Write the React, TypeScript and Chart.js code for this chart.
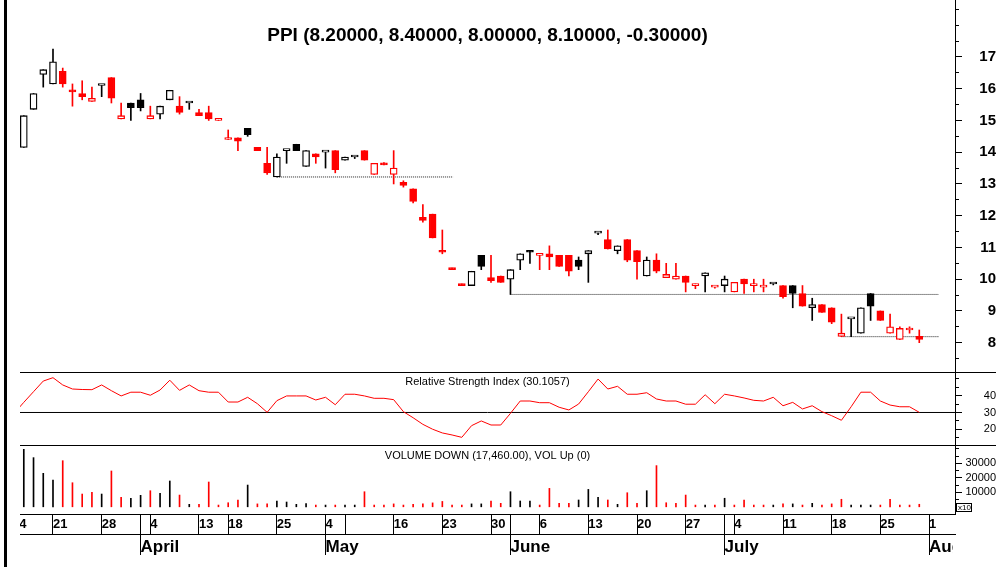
import React, { useEffect, useRef } from 'react';
import { Chart, registerables } from 'chart.js';

Chart.register(...registerables);

const FONT = '"Liberation Sans", Arial, Helvetica, sans-serif';
const RED = '#ff0000';
const BLACK = '#000000';

const titleText = 'PPI (8.20000, 8.40000, 8.00000, 8.10000, -0.30000)';
const rsiCaption = 'Relative Strength Index (30.1057)';
const volCaption = 'VOLUME DOWN (17,460.00), VOL Up (0)';

// trading-day index of the first candle (index 0 = Monday 21 March)
const firstDay = -3;

const open = [
  14.15, 15.35, 16.45, 16.15, 16.55, 15.95, 15.85, 15.6, 16.1, 16.35,
  15.05, 15.55, 15.65, 15.05, 15.2, 15.65, 15.45, 15.55, 15.25, 15.25,
  15.0, 14.4, 14.45, 14.75, 14.15, 13.65, 13.22, 14.05, 14.25, 13.55,
  13.95, 14.0, 14.05, 13.75, 13.85, 14.05, 13.3, 13.65, 13.3, 13.05,
  12.85, 11.95, 12.05, 10.9, 10.35, 9.85, 9.8, 10.75, 10.05, 10.1,
  10.0, 10.6, 10.9, 10.75, 10.8, 10.75, 10.75, 10.6, 10.8, 11.45,
  11.25, 10.9, 11.25, 10.9, 10.1, 10.6, 10.05, 10.0, 10.1, 9.8,
  10.1, 9.75, 9.8, 9.6, 10.0, 9.8, 9.75, 9.85, 9.8, 9.8,
  9.55, 9.1, 9.2, 9.1, 8.2, 8.75, 8.3, 9.55, 9.0, 8.3,
  8.1, 8.4, 8.2,
];
const high = [
  15.15, 15.85, 16.6, 17.25, 16.65, 16.15, 16.25, 16.05, 16.1, 16.35,
  15.55, 15.55, 15.85, 15.45, 15.45, 15.95, 15.75, 15.55, 15.35, 15.45,
  15.05, 14.7, 14.45, 14.75, 14.15, 14.15, 13.95, 14.05, 14.25, 14.05,
  13.95, 14.0, 14.05, 13.85, 13.85, 14.05, 13.65, 13.67, 14.05, 13.1,
  12.85, 12.35, 12.05, 11.55, 10.35, 9.85, 10.25, 10.75, 10.75, 10.1,
  10.3, 10.8, 10.9, 10.75, 11.05, 10.75, 10.75, 10.7, 10.9, 11.47,
  11.55, 11.05, 11.25, 10.9, 10.7, 10.8, 10.5, 10.5, 10.1, 9.85,
  10.2, 9.75, 10.1, 9.9, 10.0, 10.0, 10.0, 9.87, 9.8, 9.8,
  9.8, 9.4, 9.2, 9.1, 8.9, 8.75, 9.1, 9.55, 9.0, 8.9,
  8.5, 8.5, 8.4,
];
const low = [
  14.15, 15.35, 16.05, 16.15, 16.05, 15.45, 15.65, 15.6, 15.75, 15.55,
  15.05, 15.0, 15.3, 15.05, 15.05, 15.65, 15.2, 15.35, 15.15, 15.0,
  15.0, 14.4, 14.05, 14.5, 14.05, 13.3, 13.22, 13.65, 14.05, 13.55,
  13.65, 13.5, 13.35, 13.75, 13.8, 13.75, 13.3, 13.6, 13.0, 12.9,
  12.4, 11.8, 11.3, 10.8, 10.3, 9.8, 9.8, 10.3, 9.9, 9.9,
  9.52, 10.3, 10.5, 10.3, 10.3, 10.4, 10.1, 10.3, 9.9, 11.4,
  10.95, 10.8, 10.55, 10.0, 10.1, 10.2, 10.05, 10.0, 9.6, 9.7,
  9.6, 9.72, 9.6, 9.6, 9.55, 9.6, 9.6, 9.82, 9.4, 9.1,
  9.15, 8.7, 8.95, 8.6, 8.19, 8.19, 8.3, 8.7, 8.7, 8.3,
  8.1, 8.3, 8.0,
];
const close = [
  15.15, 15.85, 16.6, 16.85, 16.15, 15.9, 15.75, 15.7, 16.1, 15.7,
  15.15, 15.4, 15.4, 15.15, 15.45, 15.95, 15.25, 15.55, 15.15, 15.05,
  15.0, 14.4, 14.35, 14.55, 14.05, 13.35, 13.85, 14.05, 14.05, 14.05,
  13.85, 14.0, 13.45, 13.85, 13.85, 13.75, 13.65, 13.6, 13.5, 12.95,
  12.45, 11.85, 11.3, 10.85, 10.3, 9.8, 10.25, 10.4, 9.95, 9.9,
  10.3, 10.8, 10.85, 10.75, 10.7, 10.4, 10.25, 10.4, 10.9, 11.45,
  10.95, 11.05, 10.6, 10.55, 10.6, 10.25, 10.15, 10.1, 9.9, 9.85,
  10.2, 9.75, 10.0, 9.9, 9.85, 9.8, 9.75, 9.85, 9.45, 9.55,
  9.15, 9.2, 8.95, 8.65, 8.3, 8.75, 9.1, 9.15, 8.7, 8.5,
  8.45, 8.4, 8.1,
];
// volume in axis units (x10)
const volume = [
  39650, 33900, 23100, 18500, 31800, 16600, 8800, 10000, 8800, 24700,
  6500, 5900, 7900, 11100, 9300, 17800, 8100, 1700, 1700, 17100,
  1200, 2800, 4700, 15000, 2000, 2000, 4000, 3300, 1700, 2200,
  1200, 1200, 1200, 1200, 1200, 10400, 1200, 1200, 2000, 1200,
  1700, 2000, 2700, 3700, 1200, 1200, 2000, 2000, 4000, 2400,
  10400, 4000, 4000, 1200, 12700, 2400, 2400, 4700, 12000, 6500,
  4700, 1700, 9700, 2400, 11100, 28400, 2800, 2400, 8100, 1200,
  1200, 1200, 5900, 1200, 4700, 1200, 1200, 1200, 2000, 2000,
  1200, 2400, 1200, 2000, 5200, 1200, 1200, 1200, 1200, 5200,
  1200, 1200, 1746,
];

const rsiFirstDay = -4;
const rsi = [
  29.5, 36.0, 42.3, 48.6, 50.6, 46.3, 43.9, 43.6, 43.5, 46.3,
  42.9, 39.8, 42.0, 42.0, 40.2, 43.3, 49.1, 43.1, 46.3, 42.9,
  42.0, 42.0, 36.2, 36.2, 39.0, 35.2, 30.1, 37.0, 39.8, 39.8,
  39.8, 37.4, 39.0, 34.6, 40.8, 40.8, 39.8, 38.4, 38.4, 37.6,
  30.5, 26.9, 23.0, 20.1, 17.9, 16.7, 15.3, 22.2, 25.0, 22.6,
  22.6, 29.5, 36.8, 36.8, 35.8, 35.8, 33.1, 31.5, 35.0, 42.3,
  49.8, 43.9, 45.5, 40.8, 40.8, 41.7, 38.0, 36.8, 36.8, 34.9,
  34.9, 40.5, 35.2, 40.8, 39.8, 38.6, 37.2, 36.8, 39.0, 34.0,
  36.0, 32.1, 34.0, 30.5, 28.1, 25.4, 33.4, 42.0, 42.0, 36.8,
  34.4, 33.4, 33.4, 30.1,
];
const rsiLevel = 30;

const supportLevel = [13.22, 9.52, 8.19];
const supportFrom = [23, 47, 81];
const supportTo = [41.1, 91, 91];

const weekTickIdx = [-4.2, 0, 5, 10, 15, 18, 23, 28, 30, 35, 40, 45, 50, 55, 60, 65, 70, 75, 80, 85, 90];
const weekTickLabels = ['14', '21', '28', '4', '13', '18', '25', '4', '', '16', '23', '30', '6', '13', '20', '27', '4', '11', '18', '25', '1'];
const monthTickIdx = [9, 28, 47, 69, 90];
const monthTickLabels = ['April', 'May', 'June', 'July', 'Aug'];

const priceTicks = [7.5, 8, 8.5, 9, 9.5, 10, 10.5, 11, 11.5, 12, 12.5, 13, 13.5, 14, 14.5, 15, 15.5, 16, 16.5, 17, 17.5, 18, 18.5];
const priceTickLabels = [8, 9, 10, 11, 12, 13, 14, 15, 16, 17];
const rsiTicks = [15, 20, 25, 30, 35, 40, 45, 50];
const rsiTickLabels = [20, 30, 40];
const volTicks = [5000, 10000, 15000, 20000, 25000, 30000, 35000, 40000];
const volTickLabels = [10000, 20000, 30000];

const X_MIN = -3.39, X_MAX = 92.67;
const PRICE_MIN = 7.077, PRICE_MAX = 18.794;
const RSI_MIN = 10.77, RSI_MAX = 53.96;
const VOL_MIN = -4966, VOL_MAX = 42620;

const days = open.map((_, k) => k + firstDay);
const isDown = close.map((c, k) => k > 0 && c < close[k - 1]);
const candleColor = isDown.map((d) => (d ? RED : BLACK));
const bodyFill = close.map((c, k) => (c < open[k] ? candleColor[k] : '#ffffff'));

const xTickValues = Array.from(new Set([...weekTickIdx, ...monthTickIdx])).sort((a, b) => a - b);

const fixWidth = (w: number) => (s: any) => {
  s.width = w;
  s.paddingTop = 0; s.paddingBottom = 0; s.paddingLeft = 0; s.paddingRight = 0;
};
const fixHeight = (h: number) => (s: any) => {
  s.height = h;
  s.paddingTop = 0; s.paddingBottom = 0; s.paddingLeft = 0; s.paddingRight = 0;
};

const overlayPlugin = {
  id: 'overlay',
  afterDraw(chart: any) {
    const { ctx, chartArea, scales } = chart;
    ctx.save();
    ctx.strokeStyle = BLACK;
    ctx.lineWidth = 1;
    for (const id of ['yRsi', 'yVol']) {
      const y = Math.round(scales[id].top) + 0.5;
      ctx.beginPath();
      ctx.moveTo(chartArea.left, y);
      ctx.lineTo(chart.width, y);
      ctx.stroke();
    }
    const cx = (chartArea.left + chartArea.right) / 2;
    ctx.fillStyle = BLACK;
    ctx.textAlign = 'center';
    ctx.textBaseline = 'middle';
    ctx.font = `bold 19px ${FONT}`;
    ctx.fillText(titleText, cx, scales.yPrice.top + 36);
    ctx.font = `11px ${FONT}`;
    ctx.fillText(rsiCaption, cx, scales.yRsi.top + 10);
    ctx.fillText(volCaption, cx, scales.yVol.top + 10.5);

    // x10 box
    const bx = chartArea.right + 1.5;
    const by = chartArea.bottom - 10.5;
    ctx.fillStyle = '#ffffff';
    ctx.fillRect(bx, by, 15, 8);
    ctx.strokeRect(bx, by, 15, 8);
    ctx.fillStyle = BLACK;
    ctx.font = `8px ${FONT}`;
    ctx.textAlign = 'left';
    ctx.fillText('x10', bx + 1.5, by + 4.5);

    // clip axis label rows at the plot edges
    ctx.fillStyle = '#ffffff';
    ctx.fillRect(0, chartArea.bottom + 1, chartArea.left, chart.height - chartArea.bottom);
    ctx.fillRect(chartArea.right - 2, scales.x2.top + 1, chart.width - chartArea.right + 2, chart.height - scales.x2.top);

    // left frame
    ctx.fillStyle = BLACK;
    ctx.fillRect(4, 0, 3, chart.height);
    ctx.restore();
  },
};

export default function App() {
  const ref = useRef<HTMLCanvasElement>(null);
  useEffect(() => {
    document.body.style.margin = '0';
    const datasets: any[] = [
      {
        type: 'bar',
        label: 'body',
        order: 1,
        xAxisID: 'x',
        yAxisID: 'yPrice',
        data: days.map((d, k) => ({ x: d, y: [open[k], close[k]] })),
        backgroundColor: bodyFill,
        borderColor: candleColor,
        borderWidth: 1.3,
        borderSkipped: false,
        barThickness: 7,
        minBarLength: 2,
        grouped: false,
      },
      {
        type: 'bar',
        label: 'wick',
        order: 2,
        xAxisID: 'x',
        yAxisID: 'yPrice',
        data: days.map((d, k) => ({ x: d, y: [low[k], high[k]] })),
        backgroundColor: candleColor,
        borderWidth: 0,
        barThickness: 1,
        grouped: false,
      },
      {
        type: 'bar',
        label: 'volume',
        order: 3,
        xAxisID: 'x',
        yAxisID: 'yVol',
        data: days.map((d, k) => ({ x: d, y: volume[k] })),
        backgroundColor: candleColor,
        borderWidth: 0,
        barThickness: 1,
        minBarLength: 1.5,
        grouped: false,
      },
      {
        type: 'line',
        label: 'rsi',
        order: 0,
        xAxisID: 'x',
        yAxisID: 'yRsi',
        data: rsi.map((v, k) => ({ x: k + rsiFirstDay, y: v })),
        borderColor: RED,
        borderWidth: 1,
        pointRadius: 0,
        tension: 0,
      },
      {
        type: 'line',
        label: 'rsiLevel',
        order: 4,
        xAxisID: 'x',
        yAxisID: 'yRsi',
        data: [{ x: X_MIN, y: rsiLevel }, { x: X_MAX, y: rsiLevel }],
        borderColor: BLACK,
        borderWidth: 1,
        pointRadius: 0,
      },
      ...supportLevel.map((lv, k) => ({
        type: 'line',
        label: 'support' + k,
        order: 5,
        xAxisID: 'x',
        yAxisID: 'yPrice',
        data: [{ x: supportFrom[k], y: lv }, { x: supportTo[k], y: lv }],
        borderColor: '#222222',
        borderWidth: 1,
        borderDash: [1, 1],
        pointRadius: 0,
      })),
    ];

    const yCommon = (size: number, bold: boolean, labelled: number[]) => ({
      type: 'linear',
      position: 'right',
      stack: 'panels',
      bounds: 'data',
      beginAtZero: false,
      offset: false,
      grid: {
        drawOnChartArea: false,
        drawTicks: true,
        tickLength: 7,
        color: BLACK,
        lineWidth: 1,
        offset: false,
        tickBorderDash: (c: any) => (c.tick && labelled.includes(c.tick.value) ? [] : [3, 40]),
      },
      border: { display: true, color: BLACK, width: 1 },
      ticks: {
        autoSkip: false,
        crossAlign: 'far',
        color: BLACK,
        font: { family: FONT, size, weight: bold ? 'bold' : 'normal' },
        callback: (v: any) => (labelled.includes(Number(v)) ? String(v) : ''),
      },
      afterFit: fixWidth(41),
    });

    const xCommon = {
      type: 'linear',
      position: 'bottom',
      min: X_MIN,
      max: X_MAX,
      bounds: 'data',
      offset: false,
      border: { display: true, color: BLACK, width: 1 },
    };

    const yPriceBase = yCommon(15, true, priceTickLabels);
    const yRsiBase = yCommon(11, false, rsiTickLabels);
    const yVolBase = yCommon(11, false, volTickLabels);

    const chart = new Chart(ref.current as HTMLCanvasElement, {
      type: 'line',
      data: { datasets },
      plugins: [overlayPlugin],
      options: {
        responsive: false,
        maintainAspectRatio: false,
        animation: false,
        events: [],
        layout: { padding: { left: 20, top: 0, right: 0, bottom: 0 }, autoPadding: false },
        plugins: { legend: { display: false }, tooltip: { enabled: false }, title: { display: false } },
        scales: {
          x: {
            ...xCommon,
            afterBuildTicks: (s: any) => { s.ticks = xTickValues.map((v) => ({ value: v })); },
            ticks: {
              autoSkip: false,
              maxRotation: 0,
              minRotation: 0,
              align: 'start',
              padding: -17,
              color: BLACK,
              font: { family: FONT, size: 13, weight: 'bold' },
              callback: (v: any) => {
                const i = weekTickIdx.indexOf(Number(v));
                return i >= 0 ? weekTickLabels[i] : '';
              },
            },
            grid: { drawOnChartArea: false, drawTicks: true, tickLength: 20, color: BLACK, lineWidth: 1, offset: false },
            afterFit: fixHeight(20),
          },
          x2: {
            ...xCommon,
            afterBuildTicks: (s: any) => { s.ticks = monthTickIdx.map((v) => ({ value: v })); },
            ticks: {
              autoSkip: false,
              maxRotation: 0,
              minRotation: 0,
              align: 'start',
              padding: -18,
              color: BLACK,
              font: { family: FONT, size: 17, weight: 'bold' },
              callback: (v: any) => {
                const i = monthTickIdx.indexOf(Number(v));
                return i >= 0 ? monthTickLabels[i] : '';
              },
            },
            grid: { drawOnChartArea: false, drawTicks: true, tickLength: 21, color: BLACK, lineWidth: 1, offset: false },
            afterFit: fixHeight(33),
          },
          yPrice: {
            ...yPriceBase,
            stackWeight: 372,
            min: PRICE_MIN,
            max: PRICE_MAX,
            afterBuildTicks: (s: any) => { s.ticks = priceTicks.map((v) => ({ value: v })); },
            ticks: { ...yPriceBase.ticks, padding: 14 },
          },
          yRsi: {
            ...yRsiBase,
            stackWeight: 73,
            min: RSI_MIN,
            max: RSI_MAX,
            afterBuildTicks: (s: any) => { s.ticks = rsiTicks.map((v) => ({ value: v })); },
            ticks: { ...yRsiBase.ticks, padding: 20 },
          },
          yVol: {
            ...yVolBase,
            stackWeight: 69,
            min: VOL_MIN,
            max: VOL_MAX,
            afterBuildTicks: (s: any) => { s.ticks = volTicks.map((v) => ({ value: v })); },
            ticks: { ...yVolBase.ticks, padding: 1 },
          },
        },
      } as any,
    } as any);
    return () => chart.destroy();
  }, []);
  return <canvas ref={ref} width={996} height={567} style={{ display: 'block' }} />;
}
